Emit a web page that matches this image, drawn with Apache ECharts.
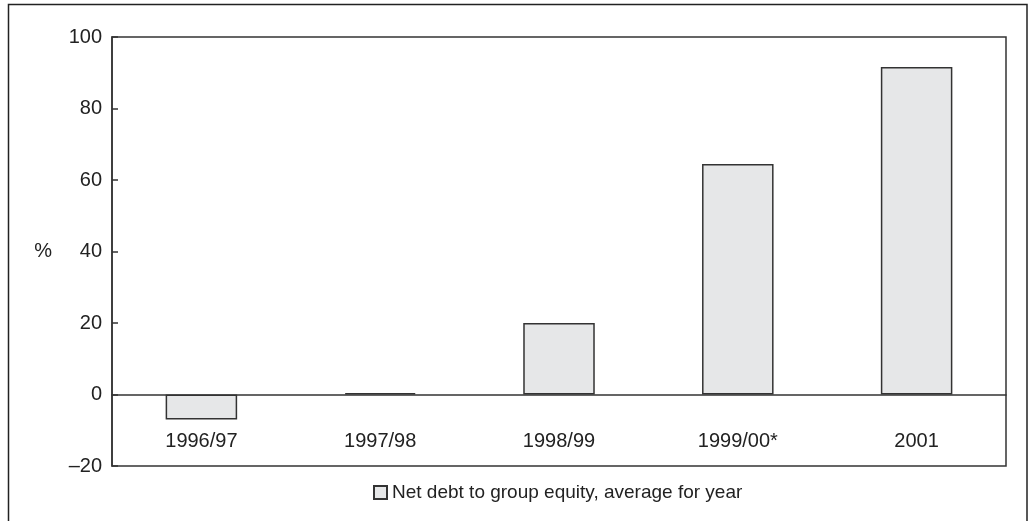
<!DOCTYPE html>
<html>
<head>
<meta charset="utf-8">
<script src="https://cdn.jsdelivr.net/npm/echarts@6/dist/echarts.min.js"></script>
<style>
  html, body { margin: 0; padding: 0; background: #fff; }
  #chart { width: 1029px; height: 521px; }
</style>
</head>
<body>
<div id="chart"></div>
<script>
// data
const years = ['1996/97', '1997/98', '1998/99', '1999/00*', '2001'];
const netDebt = [-7, 0.4, 20, 64.5, 91.6];
const seriesName = 'Net debt to group equity, average for year';

const chart = echarts.init(document.getElementById('chart'));

chart.setOption({
  animation: false,
  backgroundColor: '#fff',
  textStyle: { fontFamily: 'Liberation Sans, Arial, sans-serif' },
  graphic: [
    {
      // outer frame, open at the bottom
      type: 'polyline',
      shape: { points: [[8.5, 530], [8.5, 4.5], [1027, 4.5], [1027, 530]] },
      style: { stroke: '#222', lineWidth: 1.5, fill: null }
    }
  ],
  grid: {
    left: 112, top: 37, right: 23, bottom: 55,
    show: true, borderColor: '#333', borderWidth: 1.5
  },
  legend: {
    top: 478,
    left: 368,
    icon: 'rect',
    itemWidth: 13, itemHeight: 13, itemGap: 6,
    textStyle: { fontSize: 19, color: '#222' },
    data: [seriesName]
  },
  xAxis: {
    type: 'category',
    data: years,
    axisLine: { onZero: true, lineStyle: { color: '#333', width: 1.5 } },
    axisTick: { show: false },
    // labels sit just under the zero line, inside the plot box
    axisLabel: { margin: -35, fontSize: 20, color: '#222' }
  },
  yAxis: {
    type: 'value',
    min: -20, max: 100, interval: 20,
    name: '%',
    nameLocation: 'middle',
    nameRotate: 0,
    nameGap: 60,
    nameTextStyle: { fontSize: 20, color: '#222' },
    axisLine: { show: true, lineStyle: { color: '#333', width: 1.5 } },
    axisTick: { show: true, inside: true, length: 6, lineStyle: { color: '#333', width: 1.5 } },
    splitLine: { show: false },
    axisLabel: {
      margin: 10, fontSize: 20, color: '#222',
      formatter: v => (v < 0 ? '\u2013' + Math.abs(v) : String(v))
    }
  },
  series: [
    {
      name: seriesName,
      type: 'bar',
      data: netDebt,
      barWidth: '40%',
      itemStyle: { color: '#e6e7e8', borderColor: '#333', borderWidth: 1.5 }
    }
  ]
});
</script>
</body>
</html>
